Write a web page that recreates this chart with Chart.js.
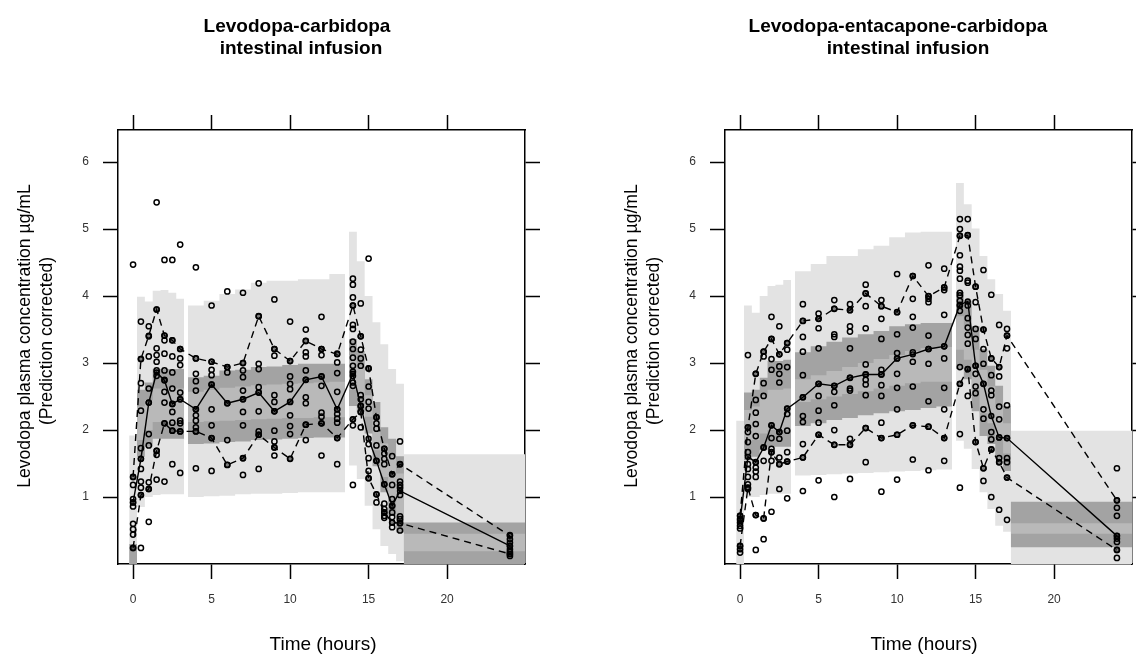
<!DOCTYPE html>
<html>
<head>
<meta charset="utf-8">
<script src="https://cdn.jsdelivr.net/npm/chart.js@4.4.1/dist/chart.umd.min.js"></script>
<style>
  body { margin:0; background:#fff; width:1136px; height:654px; position:relative; overflow:hidden; font-family:"Liberation Sans", Arial, sans-serif; }
  canvas { position:absolute; top:0; }
  .t { position:absolute; white-space:nowrap; color:#000; transform:translate(-50%,-50%); line-height:1; }
  .title { font-weight:bold; font-size:19px; }
  .xt { font-size:19px; }
  .yt { font-size:17.6px; transform:translate(-50%,-50%) rotate(-90deg); }
</style>
</head>
<body>
<canvas id="c1" width="600" height="654" style="left:0"></canvas>
<canvas id="c2" width="536" height="654" style="left:600px"></canvas>

<div class="t title" style="left:297px;top:25px">Levodopa-carbidopa</div>
<div class="t title" style="left:301px;top:47px">intestinal infusion</div>
<div class="t title" style="left:898px;top:25px">Levodopa-entacapone-carbidopa</div>
<div class="t title" style="left:908px;top:47px">intestinal infusion</div>

<div class="t yt" style="left:25px;top:336px">Levodopa plasma concentration µg/mL</div>
<div class="t yt" style="left:47px;top:341px">(Prediction corrected)</div>
<div class="t yt" style="left:632px;top:336px">Levodopa plasma concentration µg/mL</div>
<div class="t yt" style="left:654px;top:341px">(Prediction corrected)</div>

<div class="t xt" style="left:323px;top:643px">Time (hours)</div>
<div class="t xt" style="left:924px;top:643px">Time (hours)</div>

<script>
// nominal sampling times (hours)
var times = [0, 0.5, 1, 1.5, 2, 2.5, 3, 4, 5, 6, 7, 8, 9, 10, 11, 12, 13, 14, 14.5, 15, 15.5, 16, 16.5, 17, 24];

// time bins of the shaded prediction intervals
var binStart = [-0.25, 0.25, 0.75, 1.25, 1.75, 2.25, 2.75, 3.5, 4.5, 5.5, 6.5, 7.5, 8.5, 9.5, 10.5, 11.5, 12.5, 13.75, 14.25, 14.75, 15.25, 15.75, 16.25, 16.75, 17.25];
var binEnd = [0.25, 0.75, 1.25, 1.75, 2.25, 2.75, 3.25, 4.5, 5.5, 6.5, 7.5, 8.5, 9.5, 10.5, 11.5, 12.5, 13.5, 14.25, 14.75, 15.25, 15.75, 16.25, 16.75, 17.25, 25];

var xTicks = [0, 5, 10, 15, 20];
var yTicks = [1, 2, 3, 4, 5, 6];

// ---- Levodopa-carbidopa ----
var lcMedian = [0.92, 1.57, 2.41, 2.86, 2.74, 2.39, 2.46, 2.31, 2.68, 2.40, 2.46, 2.56, 2.28, 2.42, 2.75, 2.80, 2.31, 2.84, 2.36, 1.87, 1.54, 1.19, 0.87, 1.09, 0.27];
var lcP95 = [1.30, 3.06, 3.41, 3.80, 3.41, 3.34, 3.21, 3.07, 3.02, 2.94, 3.00, 3.70, 3.21, 3.03, 3.33, 3.21, 3.13, 3.86, 3.40, 2.92, 2.19, 1.72, 1.34, 1.49, 0.42];
var lcP05 = [0.24, 1.03, 1.12, 1.69, 2.10, 1.99, 1.98, 1.98, 1.88, 1.48, 1.58, 1.93, 1.74, 1.57, 2.08, 2.10, 1.88, 2.16, 2.27, 1.28, 1.04, 0.77, 0.62, 0.61, 0.15];

var lcLightLo = [0, 0.85, 1.0, 1.03, 1.04, 1.04, 1.04, 1.0, 1.01, 1.02, 1.04, 1.05, 1.05, 1.06, 1.07, 1.07, 1.07, 1.47, 1.27, 0.87, 0.52, 0.27, 0.15, 0.04, 0];
var lcLightHi = [1.92, 3.99, 3.92, 4.08, 4.09, 4.05, 3.96, 3.86, 3.93, 4.03, 4.1, 4.2, 4.23, 4.23, 4.25, 4.25, 4.33, 4.96, 4.52, 4.0, 3.61, 3.28, 2.91, 2.69, 1.64];
var lcDarkLo = [0, 1.6, 1.75, 1.87, 1.87, 1.87, 1.87, 1.79, 1.8, 1.82, 1.83, 1.85, 1.86, 1.87, 1.88, 1.89, 1.89, 2.36, 2.27, 1.95, 1.46, 1.07, 0.72, 0.47, 0];
var lcDarkHi = [0.3, 2.6, 2.71, 2.91, 2.91, 2.91, 2.91, 2.79, 2.81, 2.89, 2.9, 2.94, 2.95, 2.97, 2.99, 2.99, 2.99, 3.36, 3.18, 2.76, 2.42, 2.04, 1.87, 1.61, 0.62];
var lcMidLo = [0, 1.85, 2.0, 2.12, 2.12, 2.12, 2.12, 2.12, 2.13, 2.14, 2.15, 2.16, 2.17, 2.18, 2.18, 2.19, 2.19, 2.6, 2.5, 2.2, 1.7, 1.3, 0.98, 0.72, 0.19];
var lcMidHi = [0, 2.35, 2.45, 2.62, 2.62, 2.62, 2.62, 2.57, 2.6, 2.63, 2.65, 2.67, 2.68, 2.69, 2.7, 2.71, 2.72, 3.12, 2.95, 2.52, 2.15, 1.8, 1.6, 1.35, 0.45];

var lcObs = [
  [4.47, 1.30, 1.18, 0.97, 0.92, 0.86, 0.60, 0.52, 0.44, 0.24],
  [3.62, 3.06, 2.70, 2.29, 1.73, 1.57, 1.42, 1.23, 1.14, 1.03, 0.24],
  [3.55, 3.40, 3.10, 2.62, 2.41, 1.94, 1.77, 1.22, 1.12, 0.63],
  [5.40, 3.80, 3.22, 3.12, 3.02, 2.89, 2.81, 1.69, 1.63, 1.26],
  [4.54, 3.41, 3.34, 3.14, 2.89, 2.75, 2.57, 2.41, 2.10, 1.23],
  [4.54, 3.34, 3.10, 2.86, 2.62, 2.39, 2.27, 2.11, 1.99, 1.49],
  [4.77, 3.21, 3.07, 2.97, 2.56, 2.46, 2.14, 2.10, 1.98, 1.36],
  [4.43, 3.07, 2.84, 2.73, 2.59, 2.31, 2.22, 2.14, 2.04, 1.98, 1.43],
  [3.86, 3.02, 2.90, 2.82, 2.68, 2.31, 2.07, 1.88, 1.39],
  [4.07, 2.94, 2.86, 2.40, 1.85, 1.48],
  [4.05, 3.00, 2.89, 2.79, 2.59, 2.46, 2.27, 2.07, 1.58, 1.33],
  [4.19, 3.70, 2.99, 2.91, 2.64, 2.56, 2.28, 1.98, 1.93, 1.42],
  [3.95, 3.21, 3.11, 2.52, 2.42, 2.28, 1.99, 1.83, 1.74, 1.62],
  [3.62, 3.03, 2.80, 2.69, 2.61, 2.42, 2.22, 2.06, 1.94, 1.57],
  [3.50, 3.33, 3.16, 3.10, 2.89, 2.75, 2.49, 2.40, 2.08, 1.85],
  [3.69, 3.21, 3.12, 2.80, 2.66, 2.26, 2.20, 2.10, 1.62],
  [3.14, 3.01, 2.85, 2.57, 2.31, 2.24, 2.17, 2.11, 1.88, 1.49],
  [4.26, 4.17, 3.98, 3.86, 3.57, 3.51, 3.32, 3.21, 3.08, 2.96, 2.87, 2.81, 2.71, 2.66, 2.16, 2.07, 1.18],
  [3.89, 3.40, 3.20, 3.07, 2.96, 2.52, 2.46, 2.36, 2.27, 2.04],
  [4.56, 2.92, 2.65, 2.42, 2.32, 1.79, 1.58, 1.39, 1.28],
  [2.19, 2.10, 2.02, 1.77, 1.54, 1.04, 0.92],
  [1.72, 1.65, 1.57, 1.49, 1.19, 0.90, 0.82, 0.77, 0.72, 0.69],
  [1.61, 1.34, 1.18, 0.97, 0.87, 0.77, 0.70, 0.62, 0.55],
  [1.83, 1.49, 1.23, 1.18, 1.14, 1.03, 0.71, 0.67, 0.61, 0.50],
  [0.43, 0.37, 0.32, 0.27, 0.22, 0.18, 0.15, 0.12]
];

// ---- Levodopa-entacapone-carbidopa ----
var lecMedian = [0.65, 1.60, 1.52, 1.74, 2.07, 1.97, 2.32, 2.49, 2.69, 2.66, 2.78, 2.83, 2.83, 3.07, 3.13, 3.21, 3.25, 3.87, 3.92, 2.96, 2.69, 2.21, 1.89, 1.88, 0.42];
var lecP95 = [0.72, 2.04, 2.84, 3.17, 3.36, 3.13, 3.30, 3.63, 3.66, 3.81, 3.79, 4.04, 3.85, 3.76, 4.30, 4.00, 4.13, 4.90, 4.91, 4.14, 3.50, 3.07, 2.94, 3.41, 0.95];
var lecP05 = [0.27, 1.14, 0.73, 0.68, 1.67, 1.49, 1.53, 1.59, 1.93, 1.78, 1.78, 2.03, 1.88, 1.93, 2.07, 2.05, 1.88, 2.69, 2.91, 1.82, 1.43, 1.71, 1.52, 1.29, 0.21];

var lecLightLo = [0, 1.0, 1.0, 1.03, 1.05, 1.05, 1.05, 1.32, 1.33, 1.34, 1.35, 1.36, 1.37, 1.38, 1.39, 1.4, 1.41, 1.84, 1.72, 1.42, 1.07, 0.82, 0.57, 0.48, 0];
var lecLightHi = [2.14, 3.86, 3.75, 4.0, 4.15, 4.17, 4.24, 4.37, 4.48, 4.6, 4.6, 4.7, 4.75, 4.88, 4.95, 4.96, 4.96, 5.69, 5.37, 5.01, 4.6, 4.25, 4.03, 3.78, 1.99];
var lecDarkLo = [0, 1.55, 1.6, 1.7, 1.75, 1.75, 1.75, 2.06, 2.1, 2.15, 2.18, 2.22, 2.25, 2.28, 2.3, 2.33, 2.35, 2.91, 2.76, 2.28, 1.91, 1.79, 1.57, 1.39, 0.25];
var lecDarkHi = [0, 2.56, 2.6, 2.78, 3.03, 3.03, 3.05, 3.16, 3.25, 3.32, 3.38, 3.43, 3.48, 3.55, 3.58, 3.6, 3.6, 4.06, 3.93, 3.55, 3.21, 2.96, 2.66, 2.36, 0.93];
var lecMidLo = [0, 1.8, 1.85, 1.95, 2.0, 2.0, 2.0, 2.42, 2.46, 2.5, 2.54, 2.58, 2.62, 2.66, 2.7, 2.72, 2.72, 3.2, 3.05, 2.6, 2.25, 2.1, 1.85, 1.65, 0.45];
var lecMidHi = [0, 2.3, 2.35, 2.5, 2.6, 2.6, 2.62, 2.76, 2.82, 2.88, 2.94, 3.0, 3.06, 3.12, 3.18, 3.22, 3.24, 3.7, 3.55, 3.2, 2.9, 2.65, 2.35, 2.1, 0.61];

var lecObs = [
  [0.72, 0.67, 0.62, 0.57, 0.53, 0.27, 0.22, 0.17],
  [3.12, 2.04, 1.97, 1.82, 1.67, 1.49, 1.42, 1.30, 1.19, 1.14, 1.12],
  [2.84, 2.45, 2.26, 2.09, 1.91, 1.52, 1.44, 1.38, 1.30, 0.73, 0.21],
  [3.17, 3.10, 2.70, 2.51, 1.74, 1.54, 0.68, 0.37],
  [3.69, 3.36, 3.06, 2.90, 2.07, 1.88, 1.72, 1.67, 1.54, 0.78],
  [3.55, 3.13, 2.95, 2.84, 2.71, 1.97, 1.87, 1.59, 1.49, 1.12],
  [3.30, 3.20, 2.94, 2.32, 2.24, 1.99, 1.67, 1.53, 0.98],
  [3.88, 3.63, 3.39, 3.17, 2.82, 2.49, 2.21, 2.12, 1.79, 1.59, 1.09],
  [3.74, 3.66, 3.52, 3.22, 2.69, 2.51, 2.29, 2.11, 1.93, 1.25],
  [3.94, 3.81, 3.43, 3.39, 2.66, 2.57, 2.37, 2.00, 1.78, 1.00],
  [3.88, 3.79, 3.55, 3.47, 3.22, 2.78, 2.62, 2.59, 1.87, 1.78, 1.27],
  [4.17, 4.04, 3.85, 3.52, 2.98, 2.83, 2.75, 2.68, 2.52, 2.03, 1.52],
  [3.94, 3.85, 3.66, 3.36, 2.90, 2.83, 2.67, 2.51, 2.11, 1.88, 1.08],
  [4.33, 3.76, 3.43, 3.15, 3.07, 2.84, 2.63, 2.31, 1.93, 1.26],
  [4.30, 3.96, 3.69, 3.53, 3.16, 3.02, 2.65, 2.07, 1.56],
  [4.46, 4.00, 3.96, 3.91, 3.41, 3.21, 2.99, 2.43, 2.05, 1.40],
  [4.41, 4.13, 4.09, 3.72, 3.25, 3.07, 2.63, 2.31, 1.88, 1.54],
  [5.15, 5.00, 4.90, 4.61, 4.44, 4.38, 4.26, 4.05, 4.01, 3.93, 3.86, 3.78, 2.94, 2.69, 1.94, 1.14],
  [5.15, 4.91, 4.23, 4.20, 3.86, 3.67, 3.53, 3.42, 3.29, 2.91, 2.51],
  [4.14, 3.91, 3.51, 3.36, 2.96, 2.84, 2.65, 2.55, 1.82],
  [4.39, 3.50, 3.21, 2.99, 2.69, 2.31, 2.17, 1.43, 1.24],
  [4.02, 3.07, 2.82, 2.59, 2.52, 1.97, 1.86, 1.71, 1.00],
  [3.57, 2.94, 2.80, 2.35, 2.16, 1.89, 1.58, 1.52, 0.81],
  [3.51, 3.41, 3.22, 2.37, 1.88, 1.58, 1.52, 1.29, 0.66],
  [1.43, 0.95, 0.84, 0.72, 0.42, 0.38, 0.33, 0.21, 0.09]
];

var LIGHT = "#e3e3e3", DARK = "#a3a3a3", MID = "#b9b9b9";

Chart.defaults.font.family = '"Liberation Sans", Arial, sans-serif';

// stepped band between lo and hi, split where bins are not contiguous
function bandSets(lo, hi, color, order) {
  var sets = [];
  var up = [], dn = [];
  function flush() {
    if (!up.length) return;
    sets.push({ data: up, fill: "+1", backgroundColor: color, borderColor: "rgba(0,0,0,0)", borderWidth: 0, pointRadius: 0, order: order });
    sets.push({ data: dn, fill: false, borderColor: "rgba(0,0,0,0)", borderWidth: 0, pointRadius: 0, order: order });
    up = []; dn = [];
  }
  for (var i = 0; i < binStart.length; i++) {
    if (i > 0 && binStart[i] !== binEnd[i - 1]) flush();
    up.push({ x: binStart[i], y: hi[i] }, { x: binEnd[i], y: hi[i] });
    dn.push({ x: binStart[i], y: lo[i] }, { x: binEnd[i], y: lo[i] });
  }
  flush();
  return sets;
}

function lineSet(vals, dash, order) {
  return {
    data: times.map(function (t, i) { return { x: t, y: vals[i] }; }),
    borderColor: "#000", borderWidth: 1.4, borderDash: dash, tension: 0, fill: false,
    pointRadius: 2.5, pointBorderWidth: 1.4, pointBorderColor: "#000",
    pointBackgroundColor: "rgba(0,0,0,0.45)", order: order
  };
}

function obsSet(obs) {
  var pts = [];
  obs.forEach(function (col, i) {
    col.forEach(function (v) { pts.push({ x: times[i], y: v }); });
  });
  return {
    data: pts, showLine: false, fill: false,
    pointRadius: 2.6, pointBorderWidth: 1.5, pointBorderColor: "#000",
    pointBackgroundColor: "rgba(0,0,0,0)", order: 0
  };
}

function setTicks(list) {
  return function (s) { s.ticks = list.map(function (v) { return { value: v }; }); };
}

function axis(pos, ticksList, size, showLabels, pad) {
  var horiz = pos === "top" || pos === "bottom";
  return {
    type: "linear", position: pos,
    min: horiz ? -0.96 : 0, max: horiz ? 24.96 : 6.48,
    afterBuildTicks: setTicks(ticksList),
    afterFit: function (s) { if (horiz) s.height = size; else s.width = size; },
    grid: { display: true, drawOnChartArea: false, drawTicks: true, tickLength: 15, tickWidth: 1.5, tickColor: "#000" },
    border: { display: true, color: "#000", width: 1.5 },
    ticks: { display: showLabels, font: { size: 12 }, color: "#333", padding: pad, maxRotation: 0, autoSkip: false }
  };
}

function makeChart(id, leftW, rightW, d) {
  var datasets = []
    .concat(bandSets(d.lightLo, d.lightHi, LIGHT, 5))
    .concat(bandSets(d.darkLo, d.darkHi, DARK, 4))
    .concat(bandSets(d.midLo, d.midHi, MID, 3))
    .concat([lineSet(d.p95, [7, 5], 2), lineSet(d.p05, [7, 5], 2), lineSet(d.median, [], 1), obsSet(d.obs)]);
  return new Chart(document.getElementById(id), {
    type: "line",
    data: { datasets: datasets },
    options: {
      responsive: false,
      animation: false,
      events: [],
      layout: { padding: 0, autoPadding: false },
      plugins: { legend: { display: false }, tooltip: { enabled: false } },
      scales: {
        x: axis("bottom", xTicks, 90, true, 13),
        x2: axis("top", xTicks, 130, false, 0),
        y: axis("left", yTicks, leftW, true, 14),
        y2: axis("right", yTicks, rightW, false, 0)
      }
    }
  });
}

makeChart("c1", 118, 75, {
  lightLo: lcLightLo, lightHi: lcLightHi, darkLo: lcDarkLo, darkHi: lcDarkHi, midLo: lcMidLo, midHi: lcMidHi,
  median: lcMedian, p95: lcP95, p05: lcP05, obs: lcObs
});
makeChart("c2", 125, 4, {
  lightLo: lecLightLo, lightHi: lecLightHi, darkLo: lecDarkLo, darkHi: lecDarkHi, midLo: lecMidLo, midHi: lecMidHi,
  median: lecMedian, p95: lecP95, p05: lecP05, obs: lecObs
});
</script>
</body>
</html>
